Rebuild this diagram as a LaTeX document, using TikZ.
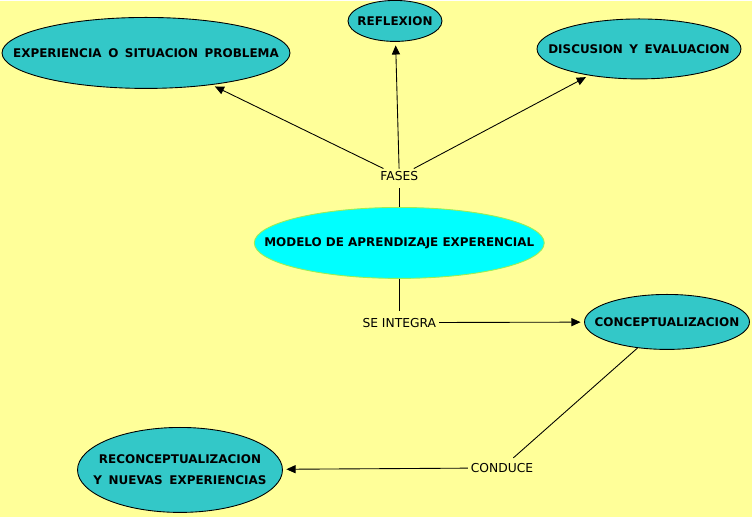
\documentclass[tikz,border=0pt]{standalone}
\usepackage{fontspec}
\setmainfont{DejaVu Sans}
\usetikzlibrary{arrows.meta}
\usetikzlibrary{positioning}
\usetikzlibrary{shapes.geometric}

\definecolor{paper}{HTML}{FFFF99}
\definecolor{tealnode}{HTML}{33C8C8}
\definecolor{corefill}{HTML}{00FFFF}
\definecolor{coreline}{HTML}{99EE55}
\newcommand{\wsp}{\hspace{0.55em}}
\newcommand{\zw}[1]{\makebox[0pt]{#1}}

\begin{document}
\begin{tikzpicture}[x=0.02cm,y=-0.02cm,>={Triangle[length=5.2pt,width=4.6pt]},shorten >=2pt,
  line width=0.5pt,
  main node/.style={ellipse,draw=black,fill=tealnode,inner sep=0pt,align=center,
    font=\fontsize{6.8}{11.9}\selectfont\bfseries},
  core node/.style={main node,fill=corefill,draw=coreline},
  link node/.style={inner sep=1.5pt,font=\fontsize{7}{8}\selectfont}]

  \fill[paper] (0,0) rectangle (752,516);

  \node[core node,minimum width=5.8cm,minimum height=1.42cm] (MODELO) at (399.3,242) {\zw{MODELO DE APRENDIZAJE EXPERENCIAL}};
  \node[main node,minimum width=5.76cm,minimum height=1.42cm] (EXP) at (146,52) {\zw{EXPERIENCIA\wsp O\wsp SITUACION\wsp PROBLEMA}};
  \node[main node,minimum width=1.88cm,minimum height=0.82cm] (REFL) at (395,20) {\zw{REFLEXION}};
  \node[main node,minimum width=4.08cm,minimum height=1.2cm] (DISC) at (639,48) {\zw{DISCUSION\wsp Y\wsp EVALUACION}};
  \node[main node,minimum width=3.3cm,minimum height=1.1cm] (CONCEPT) at (667,321) {\zw{CONCEPTUALIZACION}};
  \node[main node,minimum width=4.1cm,minimum height=1.7cm] (RECON) at (180,469) {\zw{RECONCEPTUALIZACION}\\\zw{Y\wsp NUEVAS\wsp EXPERIENCIAS}};

  \node[link node] (FASES) [above = 0.46cm of MODELO] {FASES};
  \node[link node] (INTEG) [below = 0.72cm of MODELO] {SE INTEGRA};
  \node[link node] (CONDUCE) at (502,467) {CONDUCE};

  \path (MODELO) edge (FASES)
    (FASES) edge[->] (EXP)
          edge[->] (REFL)
          edge[->] (DISC)
    (MODELO) edge (INTEG)
    (INTEG) edge[->] (CONCEPT)
    (CONCEPT) edge (CONDUCE)
    (CONDUCE) edge[->] (RECON);

\end{tikzpicture}
\end{document}
